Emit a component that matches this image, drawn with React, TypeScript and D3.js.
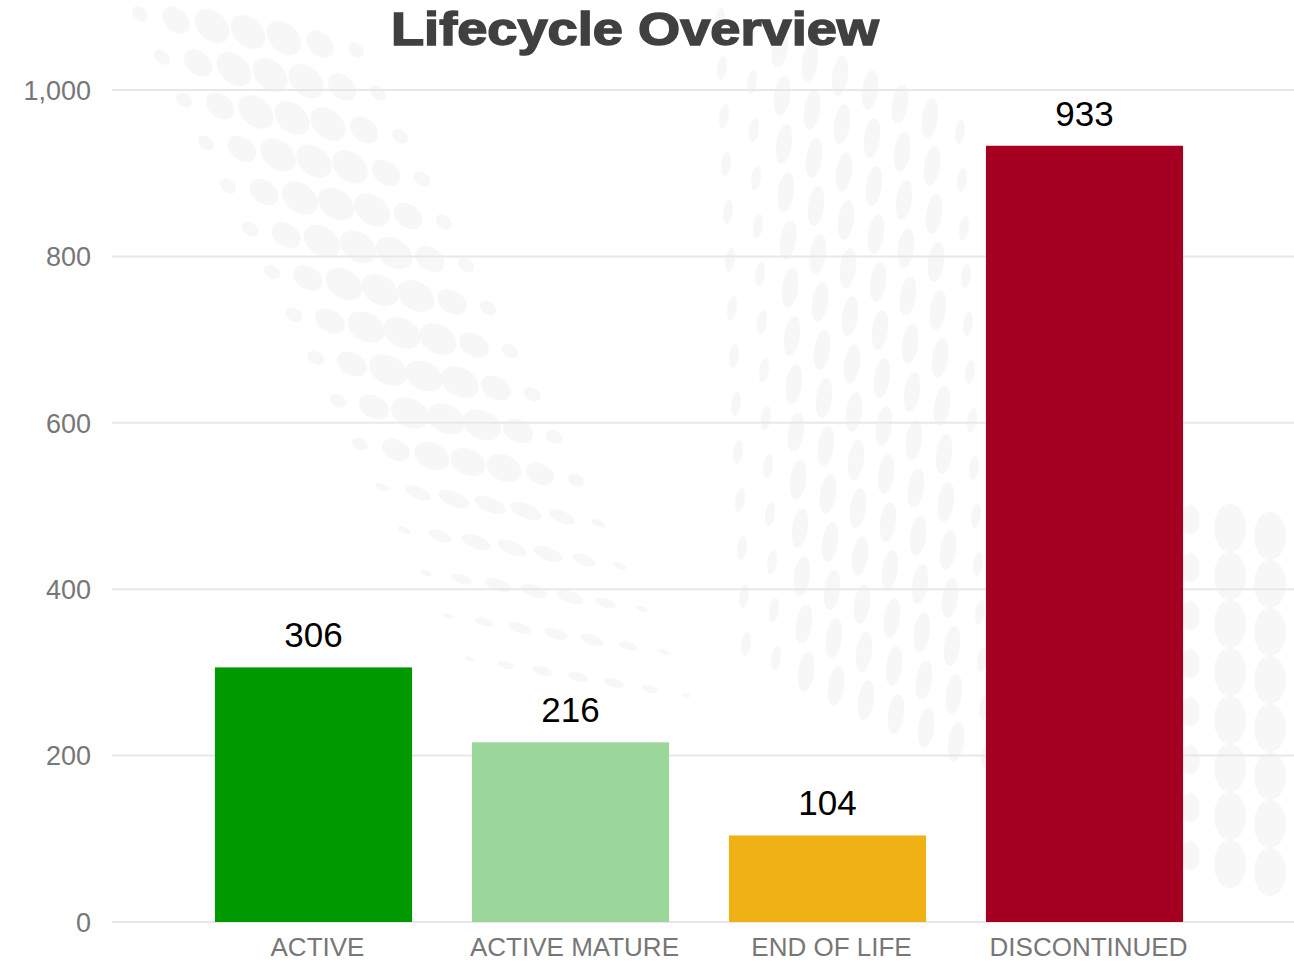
import React from 'react';
import * as d3 from 'd3';

const categories = ['ACTIVE', 'ACTIVE MATURE', 'END OF LIFE', 'DISCONTINUED'];
const counts = [306, 216, 104, 933];
const barColors = ['#009900', '#9bd79b', '#efb114', '#a50021'];
const yTicks = [0, 200, 400, 600, 800, 1000];

const W = 1294;
const H = 961;
const FONT = "'Liberation Sans', Arial, sans-serif";

// faint dotted swirl in the background (decoration only)
function backgroundDots() {
  const dots: { cx: number; cy: number; rx: number; ry: number; rot: number }[] = [];
  // upper-left diagonal rows
  for (let r = 0; r < 16; r++) {
    const n = 7;
    for (let i = 0; i < n; i++) {
      const edge = Math.min(i, n - 1 - i);
      const s = edge === 0 ? 0.45 : edge === 1 ? 0.8 : 1;
      const shrink = r > 9 ? 1 - (r - 9) * 0.08 : 1;
      dots.push({
        cx: 140 + r * 22 + i * 36,
        cy: 14 + r * 43 + i * 6,
        rx: 20 * s * shrink,
        ry: 14 * s * shrink * (r > 10 ? 0.6 : 1),
        rot: 45 - r * 2,
      });
    }
  }
  // vertical band of tall ellipses
  for (let c = 0; c < 9; c++) {
    for (let j = 0; j < 14; j++) {
      const s = c < 2 || c > 7 ? 0.6 : 1;
      dots.push({
        cx: 720 + c * 30 + j * 2,
        cy: 20 + j * 48 + c * 14,
        rx: 8 * s,
        ry: 20 * s,
        rot: 8,
      });
    }
  }
  // right side large ellipses
  for (let c = 0; c < 4; c++) {
    for (let j = 0; j < 8; j++) {
      const s = c === 0 ? 0.6 : 1;
      dots.push({
        cx: 1190 + c * 40,
        cy: 520 + j * 48 + c * 8,
        rx: 16 * s,
        ry: 24 * s,
        rot: 0,
      });
    }
  }
  return dots;
}

export default function App() {
  const x = d3
    .scaleBand<string>()
    .domain(categories)
    .range([185, 1213])
    .paddingInner(0.233)
    .paddingOuter(0.1165);

  const y = d3.scaleLinear().domain([0, 1000]).range([922, 90]);
  const fmt = d3.format(',');
  const dots = backgroundDots();

  return (
    <svg
      width={W}
      height={H}
      style={{ position: 'absolute', left: 0, top: 0, background: '#fff' }}
    >
      <g>
        {dots.map((d, i) => (
          <ellipse
            key={i}
            cx={d.cx}
            cy={d.cy}
            rx={d.rx}
            ry={d.ry}
            transform={`rotate(${d.rot},${d.cx},${d.cy})`}
            fill="#f7f7f7"
          />
        ))}
      </g>

      <text
        x={635}
        y={45}
        textAnchor="middle"
        fontFamily={FONT}
        fontWeight="bold"
        fontSize={46}
        fill="#404040"
        stroke="#404040"
        strokeWidth={1.5}
        textLength={488}
        lengthAdjust="spacingAndGlyphs"
      >
        Lifecycle Overview
      </text>

      {/* gridlines and y labels */}
      {yTicks.map((t) => (
        <g key={t}>
          <line x1={112} x2={W} y1={y(t)} y2={y(t)} stroke="#e8e8e8" strokeWidth={2} />
          <text
            x={91}
            y={y(t)}
            dy="0.36em"
            textAnchor="end"
            fontFamily={FONT}
            fontSize={27}
            fill="#777"
          >
            {fmt(t)}
          </text>
        </g>
      ))}

      {/* bars */}
      {categories.map((c, i) => (
        <g key={c}>
          <rect
            x={x(c)}
            y={y(counts[i])}
            width={x.bandwidth()}
            height={y(0) - y(counts[i])}
            fill={barColors[i]}
          />
          <text
            x={(x(c) as number) + x.bandwidth() / 2}
            y={y(counts[i]) - 20}
            textAnchor="middle"
            fontFamily={FONT}
            fontSize={35}
            fill="#000"
          >
            {counts[i]}
          </text>
          <text
            x={(x(c) as number) + x.bandwidth() / 2 + 4}
            y={956}
            textAnchor="middle"
            fontFamily={FONT}
            fontSize={26}
            fill="#777"
          >
            {c}
          </text>
        </g>
      ))}
    </svg>
  );
}
